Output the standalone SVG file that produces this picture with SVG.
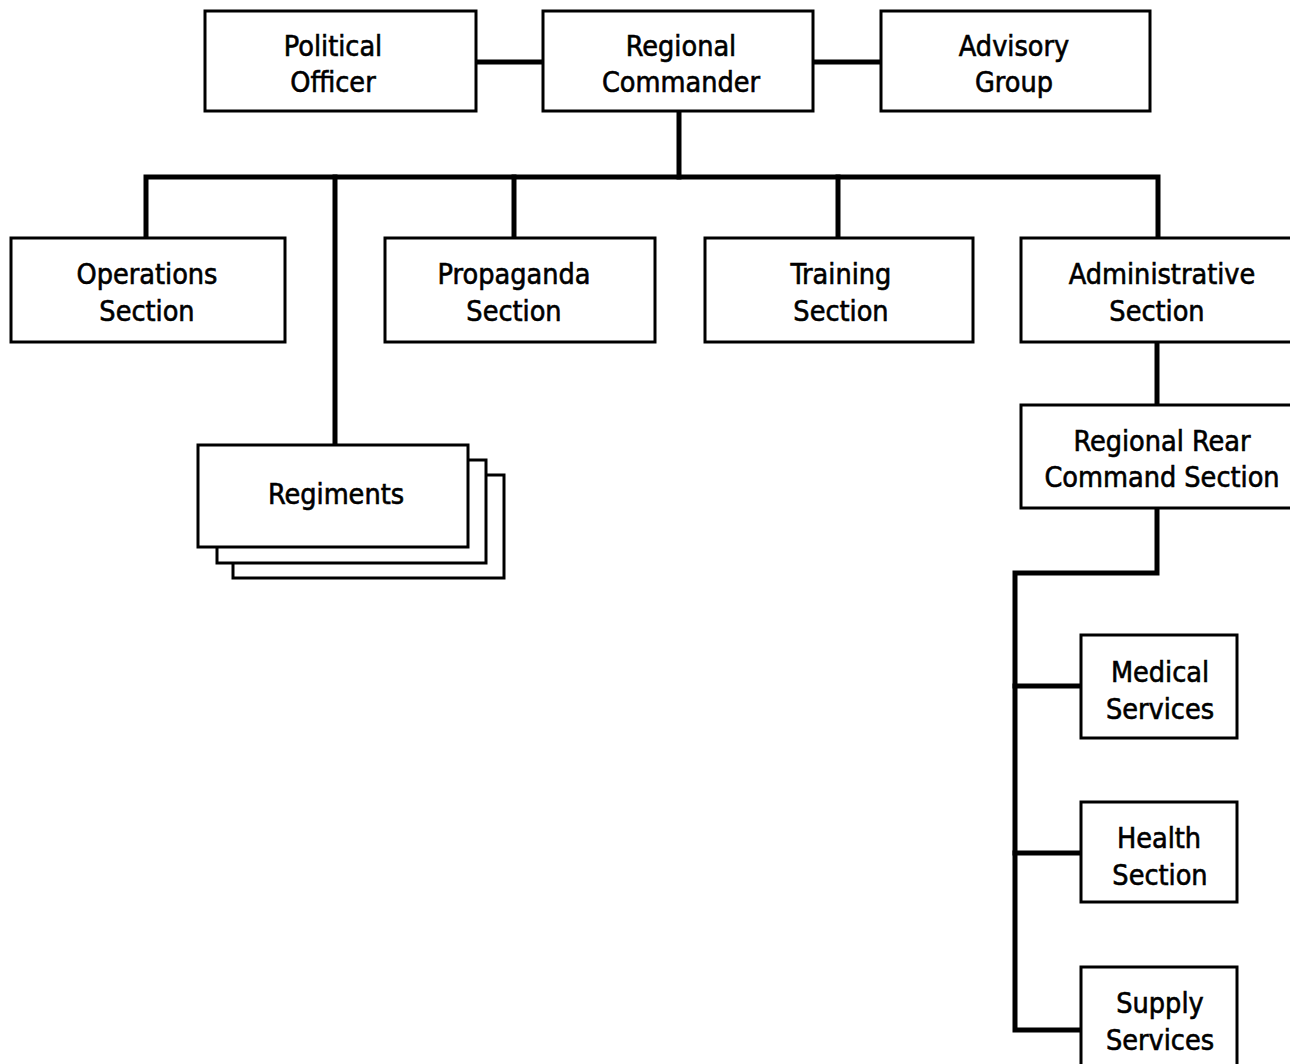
<svg xmlns="http://www.w3.org/2000/svg" width="1290" height="1064" viewBox="0 0 1290 1064">
  <style>
    .box { fill: #fff; stroke: #000; stroke-width: 3; }
    .link { fill: none; stroke: #000; stroke-width: 5; stroke-linejoin: miter; stroke-linecap: square; }
    text { font-family: "DejaVu Sans Condensed", "DejaVu Sans", sans-serif; font-stretch: condensed; font-size: 28.5px; fill: #000; stroke: #000; stroke-width: 0.6; text-anchor: middle; }
  </style>
  <rect width="1290" height="1064" fill="#fff"/>

  <!-- connectors -->
  <g id="connectors">
    <line class="link" x1="476" y1="62" x2="543" y2="62"/>
    <line class="link" x1="813" y1="62" x2="881" y2="62"/>
    <line class="link" x1="679" y1="111" x2="679" y2="177"/>
    <polyline class="link" points="146,238 146,177 1158,177 1158,238"/>
    <line class="link" x1="335" y1="177" x2="335" y2="444"/>
    <line class="link" x1="514" y1="177" x2="514" y2="238"/>
    <line class="link" x1="838" y1="177" x2="838" y2="238"/>
    <line class="link" x1="1157" y1="342" x2="1157" y2="405"/>
    <polyline class="link" points="1157,508 1157,573 1015,573 1015,1030 1081,1030"/>
    <line class="link" x1="1015" y1="686" x2="1081" y2="686"/>
    <line class="link" x1="1015" y1="853" x2="1081" y2="853"/>
  </g>

  <g id="political-officer">
    <rect class="box" x="205" y="11" width="271" height="100"/>
    <text x="333" y="56">Political</text>
    <text x="333" y="92">Officer</text>
  </g>
  <g id="regional-commander">
    <rect class="box" x="543" y="11" width="270" height="100"/>
    <text x="681" y="56">Regional</text>
    <text x="681" y="92">Commander</text>
  </g>
  <g id="advisory-group">
    <rect class="box" x="881" y="11" width="269" height="100"/>
    <text x="1014" y="56">Advisory</text>
    <text x="1014" y="92">Group</text>
  </g>

  <g id="operations-section">
    <rect class="box" x="11" y="238" width="274" height="104"/>
    <text x="147" y="284">Operations</text>
    <text x="147" y="321">Section</text>
  </g>
  <g id="propaganda-section">
    <rect class="box" x="385" y="238" width="270" height="104"/>
    <text x="514" y="284">Propaganda</text>
    <text x="514" y="321">Section</text>
  </g>
  <g id="training-section">
    <rect class="box" x="705" y="238" width="268" height="104"/>
    <text x="841" y="284">Training</text>
    <text x="841" y="321">Section</text>
  </g>
  <g id="administrative-section">
    <rect class="box" x="1021" y="238" width="275" height="104"/>
    <text x="1162" y="284">Administrative</text>
    <text x="1157" y="321">Section</text>
  </g>

  <g id="regiments">
    <rect class="box" x="233" y="475" width="271" height="103"/>
    <rect class="box" x="217" y="460" width="269" height="103"/>
    <rect class="box" x="198" y="445" width="270" height="102"/>
    <text x="336" y="504">Regiments</text>
  </g>

  <g id="regional-rear-command-section">
    <rect class="box" x="1021" y="405" width="275" height="103"/>
    <text x="1162" y="451">Regional Rear</text>
    <text x="1162" y="487">Command Section</text>
  </g>

  <g id="medical-services">
    <rect class="box" x="1081" y="635" width="156" height="103"/>
    <text x="1160" y="682">Medical</text>
    <text x="1160" y="719">Services</text>
  </g>
  <g id="health-section">
    <rect class="box" x="1081" y="802" width="156" height="100"/>
    <text x="1159" y="848">Health</text>
    <text x="1160" y="885">Section</text>
  </g>
  <g id="supply-services">
    <rect class="box" x="1081" y="967" width="156" height="110"/>
    <text x="1160" y="1013">Supply</text>
    <text x="1160" y="1050">Services</text>
  </g>
</svg>
